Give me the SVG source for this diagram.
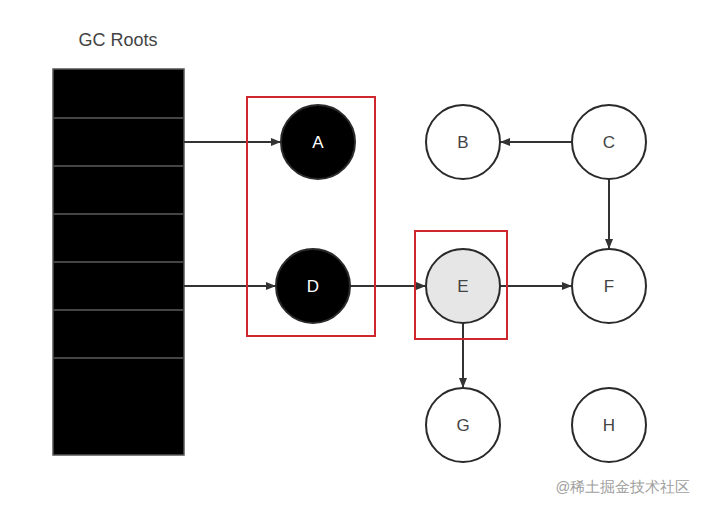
<svg xmlns="http://www.w3.org/2000/svg" width="704" height="510" viewBox="0 0 704 510">
<style>
  text { font-family: "Liberation Sans", Arial, sans-serif; }
  .node { stroke: #2a2a2a; stroke-width: 2; }
  .white { fill: #ffffff; }
  .black { fill: #000000; }
  .grey { fill: #e6e6e6; }
  .lbl { font-size: 17px; fill: #444; text-anchor: middle; }
  .lblw { font-size: 17px; fill: #ffffff; text-anchor: middle; }
  .edge { stroke: #333; stroke-width: 2; fill: none; marker-end: url(#arr); }
  .hl { fill: none; stroke: #d0262d; stroke-width: 2; }
  .sep { stroke: #444; stroke-width: 2; }
</style>
<defs>
  <marker id="arr" viewBox="0 0 10 8" refX="10" refY="4" markerWidth="10" markerHeight="8" markerUnits="userSpaceOnUse" orient="auto">
    <path d="M0,0 L10,4 L0,8 Z" fill="#333"/>
  </marker>
</defs>
<rect width="704" height="510" fill="#ffffff"/>

<g id="gcroots">
  <text x="118" y="46" font-size="18" fill="#444" text-anchor="middle">GC Roots</text>
  <rect x="53" y="69" width="131" height="386" fill="#000" stroke="#555" stroke-width="1.5"/>
  <line class="sep" x1="54" y1="118" x2="183" y2="118"/>
  <line class="sep" x1="54" y1="166" x2="183" y2="166"/>
  <line class="sep" x1="54" y1="214" x2="183" y2="214"/>
  <line class="sep" x1="54" y1="262" x2="183" y2="262"/>
  <line class="sep" x1="54" y1="310" x2="183" y2="310"/>
  <line class="sep" x1="54" y1="358" x2="183" y2="358"/>
</g>

<g id="connectors">
  <line class="edge" x1="184" y1="142" x2="281" y2="142"/>
  <line class="edge" x1="184" y1="286" x2="276" y2="286"/>
  <line class="edge" x1="350" y1="286" x2="426" y2="286"/>
  <line class="edge" x1="500" y1="286" x2="572" y2="286"/>
  <line class="edge" x1="572" y1="142" x2="500" y2="142"/>
  <line class="edge" x1="609" y1="179" x2="609" y2="249"/>
  <line class="edge" x1="463" y1="323" x2="463" y2="388"/>
</g>

<g id="node-A">
  <circle class="node black" cx="318" cy="142" r="37"/>
  <text class="lblw" x="318" y="148">A</text>
</g>
<g id="node-D">
  <circle class="node black" cx="313" cy="286" r="37"/>
  <text class="lblw" x="313" y="292">D</text>
</g>
<g id="node-B">
  <circle class="node white" cx="463" cy="142" r="37"/>
  <text class="lbl" x="463" y="148">B</text>
</g>
<g id="node-C">
  <circle class="node white" cx="609" cy="142" r="37"/>
  <text class="lbl" x="609" y="148">C</text>
</g>
<g id="node-E">
  <circle class="node grey" cx="463" cy="286" r="37"/>
  <text class="lbl" x="463" y="292">E</text>
</g>
<g id="node-F">
  <circle class="node white" cx="609" cy="286" r="37"/>
  <text class="lbl" x="609" y="292">F</text>
</g>
<g id="node-G">
  <circle class="node white" cx="463" cy="425" r="37"/>
  <text class="lbl" x="463" y="431">G</text>
</g>
<g id="node-H">
  <circle class="node white" cx="609" cy="425" r="37"/>
  <text class="lbl" x="609" y="431">H</text>
</g>

<g id="highlights">
  <rect class="hl" x="247" y="97" width="128" height="239"/>
  <rect class="hl" x="415" y="231" width="92" height="108"/>
</g>

<text x="623" y="492" font-size="14.6" fill="#a0a0a0" text-anchor="middle" font-family="'Liberation Sans', 'Noto Sans CJK SC', sans-serif">@稀土掘金技术社区</text>
</svg>
